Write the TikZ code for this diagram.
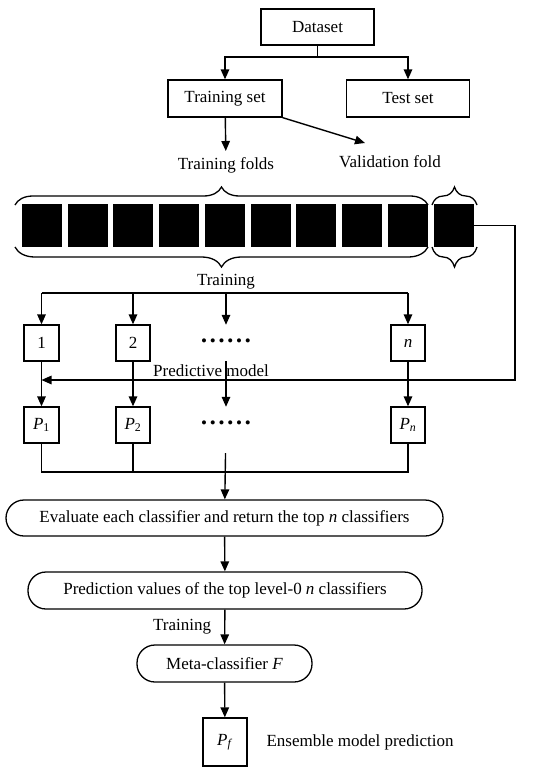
\documentclass[tikz,border=0pt]{standalone}
\usepackage{fontspec}
\setmainfont{Liberation Serif}
\usepackage{tikz}
\usetikzlibrary{arrows.meta, positioning, calc, decorations.pathreplacing}
\newcommand{\figfont}{\fontsize{17}{20}\selectfont}
\newcommand{\dotrow}{\textbullet\,\textbullet\,\textbullet\,\textbullet\,\textbullet\,\textbullet}
\tikzset{
  box/.style={
    rectangle, draw=black, line width=1.3pt,
    inner sep=0pt, text centered, font=\figfont,
  },
  stage/.style={
    rectangle, rounded corners=18pt, draw=black, line width=1.3pt,
    inner sep=0pt, text centered, font=\figfont,
  },
  fold/.style={
    rectangle, fill=black, inner sep=0pt,
    minimum width=40pt, minimum height=43pt,
  },
  txt/.style={inner sep=0pt, font=\figfont},
  arrow/.style={-{Triangle[length=10pt,width=8.5pt]}, line width=1.4pt},
  wire/.style={line width=1.3pt},
  curly/.style={decorate, decoration={brace, amplitude=#1}, line width=1.3pt},
}

\begin{document}
\begin{tikzpicture}[x=1pt, y=-1pt]
  \useasboundingbox (0,0) rectangle (550,771);

  \node[box, minimum width=113pt, minimum height=36pt] (dataset) at (317.5,27) {Dataset};
  \node[box, minimum width=114pt, minimum height=37pt] (trainset) at (225,98.5) {Training set};
  \node[box, minimum width=123pt, minimum height=37pt] (testset) at (408,98.5) {Test set};
  \node[txt] (tfolds) at (226,165) {Training folds};
  \node[txt] (vfold) at (390,162) {Validation fold};
  \coordinate (split) at (317.5,57);
  \coordinate (vtip) at (365,143);

  \foreach \i in {1,...,9}
    \node[fold] (f\i) at ({42+(\i-1)*45.7},225.5) {};
  \node[fold] (f10) at (454,225.5) {};

  \draw[curly=18pt] (15,205) -- (428,205);
  \draw[curly=18pt] (432,205) -- (477,205);
  \draw[curly=20pt] (428,247) -- (15,247);
  \draw[curly=20pt] (477,247) -- (432,247);

  \node[txt] (trainlbl) at (226,282) {Training};
  \coordinate (tsplit) at (226,293);

  \node[box, minimum width=35pt, minimum height=36pt] (m1) at (41.5,343) {1};
  \node[box, minimum width=34pt, minimum height=36pt] (m2) at (133,343) {2};
  \node[txt, minimum height=36pt] (mdots) at (226,343) {\dotrow};
  \node[box, minimum width=34pt, minimum height=36pt] (mn) at (408,343) {\textit{n}};

  \node[box, minimum width=35pt, minimum height=36pt] (p1) at (41.5,425) {\textit{P}\textsubscript{1}};
  \node[box, minimum width=34pt, minimum height=36pt] (p2) at (133,425) {\textit{P}\textsubscript{2}};
  \node[txt, minimum height=36pt] (pdots) at (226,425) {\dotrow};
  \node[box, minimum width=34pt, minimum height=36pt] (pn) at (408,425) {\textit{P}\textsubscript{\textit{n}}};
  \node[txt] (predlbl) at (211,371) {Predictive model};
  \coordinate (fbr) at (515,380);
  \coordinate (cjoin) at (226,472);

  \node[stage, minimum width=437pt, minimum height=36pt] (eval) at (224.5,518)
    {Evaluate each classifier and return the top \textit{n} classifiers};
  \node[stage, minimum width=394pt, minimum height=37pt] (pred) at (225,590.5)
    {Prediction values of the top level-0 \textit{n} classifiers};
  \node[stage, minimum width=175pt, minimum height=37pt] (meta) at (224.5,663.5)
    {Meta-classifier \textit{F}};
  \node[box, minimum width=44pt, minimum height=48pt] (pf) at (225,742)
    {\textit{P}\textsubscript{\textit{f}}};
  \node[txt] (enslbl) at (360,742) {Ensemble model prediction};

  \draw[wire] (dataset) -- (split);
  \draw[arrow] (split) -| (trainset);
  \draw[arrow] (split) -| (testset);
  \draw[arrow, shorten >=6pt] (trainset) -- (tfolds);
  \draw[arrow] (trainset.south east) -- (vtip);

  \draw[wire] (m1 |- tsplit) -- (mn |- tsplit);
  \draw[arrow] (m1 |- tsplit) -- (m1);
  \draw[arrow] (m2 |- tsplit) -- (m2);
  \draw[arrow] (tsplit) -- (mdots.north);
  \draw[arrow] (mn |- tsplit) -- (mn);

  \draw[arrow] (f10.east) -| (fbr) -- (m1 |- fbr);
  \draw[arrow] (m1) -- (p1);
  \draw[arrow] (m2) -- (p2);
  \draw[arrow] (mdots) -- (pdots);
  \draw[arrow] (mn) -- (pn);

  \draw[wire] (p1) -- (p1 |- cjoin) -- (pn |- cjoin) -- (pn);
  \draw[wire] (p2) -- (p2 |- cjoin);
  \draw[arrow, shorten <=10pt] (pdots) -- (eval);
  \draw[arrow] (eval) -- (pred);
  \draw[arrow] (pred) -- node[txt, left=13pt] {Training} (meta);
  \draw[arrow] (meta) -- (pf);

\end{tikzpicture}
\end{document}
